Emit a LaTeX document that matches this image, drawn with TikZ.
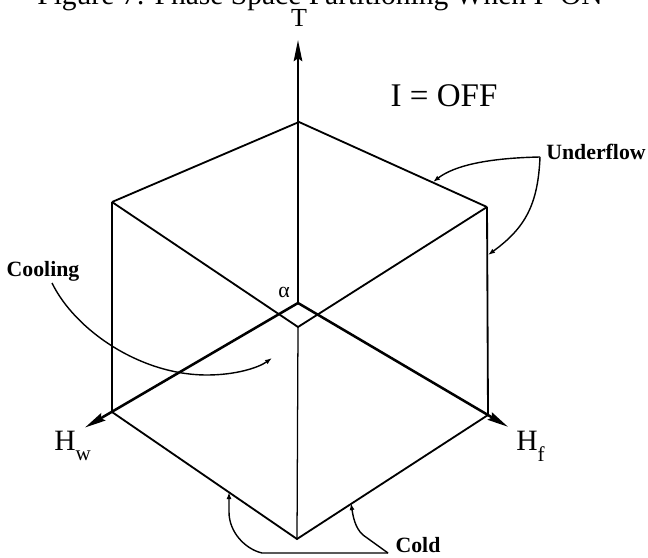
\documentclass[tikz,border=0pt]{standalone}
\usepackage{fontspec}
\setmainfont{Liberation Serif}
\usetikzlibrary{arrows.meta}

\begin{document}
\begin{tikzpicture}[x=0.025cm, y=-0.025cm,
    axis/.style={line width=1.8pt, -{Stealth[length=15pt,width=6pt,inset=2pt]}},
    edge/.style={line width=1.3pt},
    thinedge/.style={line width=0.9pt},
    callout/.style={line width=1pt, -{Latex[length=5pt,width=3.5pt]}},
    tag/.style={font=\fontsize{15.5}{18}\selectfont\bfseries, inner sep=0pt},
    axlabel/.style={font=\fontsize{21}{24}\selectfont, inner sep=0pt}]
    \useasboundingbox (0,0) rectangle (648,557);
    \clip (0,0) rectangle (648,557);

    % corners of the cube
    \coordinate (O) at (298,303);
    \coordinate (F) at (298,327);
    \coordinate (top) at (299,122);
    \coordinate (ul) at (112,202);
    \coordinate (ur) at (487,207);
    \coordinate (ll) at (112,412);
    \coordinate (lr) at (488,415);
    \coordinate (bot) at (297,539);
    \coordinate (Ttip) at (298,40);
    \coordinate (Wtip) at (85,427.5);
    \coordinate (Ftip) at (508,426.8);

    \draw[edge] (ul) -- (top) -- (ur);
    \draw[edge] (ul) -- (ll) -- (bot) -- (lr) -- (ur);
    \draw[edge] (ul) -- (F) -- (ur);
    \draw[thinedge] (F) -- (bot);

    \draw[axis] (O) -- (Ttip);
    \draw[axis] (O) -- (Wtip);
    \draw[axis] (O) -- (Ftip);

    \node[anchor=base, font=\fontsize{21}{24}\selectfont] (title) at (320,5) {Figure 7: Phase Space Partitioning When I=ON};
    \node[axlabel, font=\fontsize{18.5}{20}\selectfont] (Tlab) at (299,18) {T};
    \node[axlabel, font=\fontsize{23.5}{26}\selectfont] (ioff) at (444,96) {I = OFF};
    \node[axlabel, font=\fontsize{15.5}{18}\selectfont] (alpha) at (284,292) {α};
    \node[axlabel, anchor=base west] (hw) at (54,450) {H\raisebox{-7.5pt}{\fontsize{15}{15}\selectfont w}};
    \node[axlabel, anchor=base west] (hf) at (516,450) {H\raisebox{-8pt}{\fontsize{15}{15}\selectfont f}};

    \node[tag] (cool) at (43,271) {Cooling};
    \node[tag] (uflow) at (596,152) {Underflow};
    \node[tag] (cold) at (418,545) {Cold};

    % callouts
    \coordinate (coolA) at (52,283);
    \coordinate (coolB) at (272,358);
    \draw[callout] (coolA) .. controls (75,330) and (140,375) .. (207,375)
        .. controls (235,375) and (258,368) .. (coolB);

    \coordinate (uflowA) at (540,157);
    \coordinate (uflowB) at (433,182);
    \coordinate (uflowC) at (488,255);
    \draw[callout] (uflowA) .. controls (490,158) and (455,165) .. (uflowB);
    \draw[callout] (uflowA) .. controls (538,205) and (525,228) .. (uflowC);

    \coordinate (coldA) at (388,553);
    \coordinate (coldB) at (229,492);
    \coordinate (coldC) at (351,503);
    \draw[callout] (coldA) -- (262,553) .. controls (245,549) and (229,532) .. (229,512) -- (coldB);
    \draw[callout] (coldA) -- (363,535) .. controls (355,528) and (353,516) .. (coldC);
\end{tikzpicture}
\end{document}
